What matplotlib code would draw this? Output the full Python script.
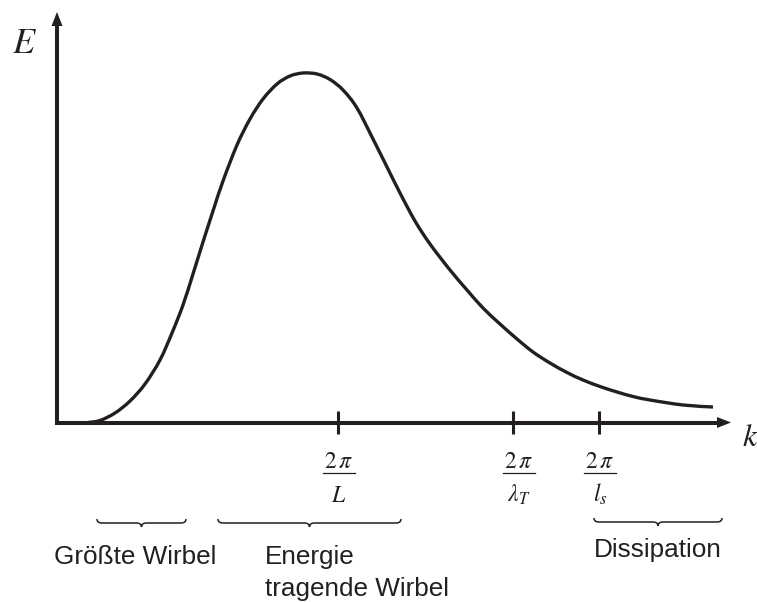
import matplotlib
matplotlib.use("Agg")
import matplotlib.pyplot as plt
from matplotlib.path import Path
from matplotlib.patches import PathPatch, Polygon

plt.rcParams['mathtext.fontset'] = 'stix'

INK = '#231f20'

# Energy spectrum E(k), schematic
k_vals = [0.31, 0.43, 0.58, 0.73, 0.88, 1.03, 1.15, 1.26, 1.36, 1.46, 1.56,
          1.66, 1.80, 1.93, 2.06, 2.20, 2.33, 2.46, 2.60, 2.73, 2.86, 3.00,
          3.16, 3.30, 3.43, 3.58, 3.73, 3.93, 4.10, 4.26, 4.43, 4.60, 4.76,
          4.93, 5.10, 5.26, 5.43, 5.60, 5.76, 5.93, 6.26, 6.56]
E_vals = [0.000, 0.020, 0.095, 0.215, 0.385, 0.625, 0.895, 1.175, 1.485,
          1.805, 2.115, 2.415, 2.775, 3.035, 3.235, 3.385, 3.465, 3.495,
          3.485, 3.430, 3.325, 3.145, 2.835, 2.555, 2.295, 2.015, 1.785,
          1.525, 1.325, 1.145, 0.985, 0.835, 0.705, 0.595, 0.500, 0.425,
          0.360, 0.305, 0.260, 0.225, 0.175, 0.155]

# characteristic wavenumbers on the k axis
tick_k = [2.81, 4.56, 5.42]
tick_label_k = [2.82, 4.62, 5.43]
tick_denoms = [r'$L$', r'$\lambda_T$', r'$l_s$']

# ranges marked with braces below the axis
brace_spans = [(0.40, 1.29), (1.61, 3.44), (5.37, 6.65)]
brace_levels = [-1.005, -1.005, -0.995]

fig = plt.figure(figsize=(7.57, 6.02), dpi=100)
ax = fig.add_axes([0, 0, 1, 1])
ax.set_xlim(-0.57, 7.00)
ax.set_ylim(-1.795, 4.225)
ax.axis('off')

# axes with arrow heads
x_end, y_end = 6.74, 4.105
head_len, head_w = 0.14, 0.055
ax.plot([0, 0, x_end - head_len], [y_end - head_len, 0, 0], color=INK,
        lw=2.9, solid_joinstyle='miter', solid_capstyle='butt')
ax.add_patch(Polygon([(x_end, 0), (x_end - head_len, head_w),
                      (x_end - head_len, -head_w)], closed=True,
                     facecolor=INK, edgecolor='none'))
ax.add_patch(Polygon([(0, y_end), (head_w, y_end - head_len),
                      (-head_w, y_end - head_len)], closed=True,
                     facecolor=INK, edgecolor='none'))

ax.text(-0.33, 3.795, r'$E$', fontsize=26, color=INK, ha='center', va='center')
ax.text(6.93, -0.15, r'$k$', fontsize=23, color=INK, ha='center', va='center')


def smooth_path(xs, ys):
    # Catmull-Rom segments through the points, as cubic Bezier curves
    pts = list(zip(xs, ys))
    pts = [pts[0]] + pts + [pts[-1]]
    verts = [pts[1]]
    codes = [Path.MOVETO]
    for i in range(1, len(pts) - 2):
        p0, p1, p2, p3 = pts[i - 1], pts[i], pts[i + 1], pts[i + 2]
        c1 = (p1[0] + (p2[0] - p0[0]) / 6, p1[1] + (p2[1] - p0[1]) / 6)
        c2 = (p2[0] - (p3[0] - p1[0]) / 6, p2[1] - (p3[1] - p1[1]) / 6)
        verts += [c1, c2, p2]
        codes += [Path.CURVE4] * 3
    return Path(verts, codes)


# spectrum curve
ax.add_patch(PathPatch(smooth_path(k_vals, E_vals), facecolor='none',
                       edgecolor=INK, lw=2.4, capstyle='butt'))

# tick marks and fraction labels
for kt, kl, den in zip(tick_k, tick_label_k, tick_denoms):
    ax.plot([kt, kt], [0.12, -0.11], color=INK, lw=2.2, solid_capstyle='butt')
    ax.text(kl, -0.455, r'$2\,\pi$', fontsize=17, color=INK,
            ha='center', va='baseline')
    ax.plot([kl - 0.16, kl + 0.16], [-0.505, -0.505], color=INK, lw=0.9)
    ax.text(kl, -0.795, den, fontsize=17, color=INK, ha='center', va='baseline')


def under_brace(x0, x1, y, h=0.04, c=0.05):
    xm = (x0 + x1) / 2
    verts = [(x0, y + h), (x0, y), (x0 + c, y),
             (xm - c, y),
             (xm, y), (xm, y - h),
             (xm, y), (xm + c, y),
             (x1 - c, y),
             (x1, y), (x1, y + h)]
    codes = [Path.MOVETO, Path.CURVE3, Path.CURVE3,
             Path.LINETO,
             Path.CURVE3, Path.CURVE3,
             Path.CURVE3, Path.CURVE3,
             Path.LINETO,
             Path.CURVE3, Path.CURVE3]
    ax.add_patch(PathPatch(Path(verts, codes), facecolor='none',
                           edgecolor=INK, lw=1.1))


for (x0, x1), yb in zip(brace_spans, brace_levels):
    under_brace(x0, x1, yb)

label_font = dict(family='Liberation Sans', fontsize=18.8, color=INK,
                  ha='left', va='baseline')
ax.text(-0.03, -1.415, 'Größte Wirbel', **label_font)
ax.text(2.08, -1.415, 'Energie', **label_font)
ax.text(2.08, -1.735, 'tragende Wirbel', **label_font)
ax.text(5.37, -1.345, 'Dissipation', **label_font)

fig.savefig('out.png', dpi=100, facecolor='white')
